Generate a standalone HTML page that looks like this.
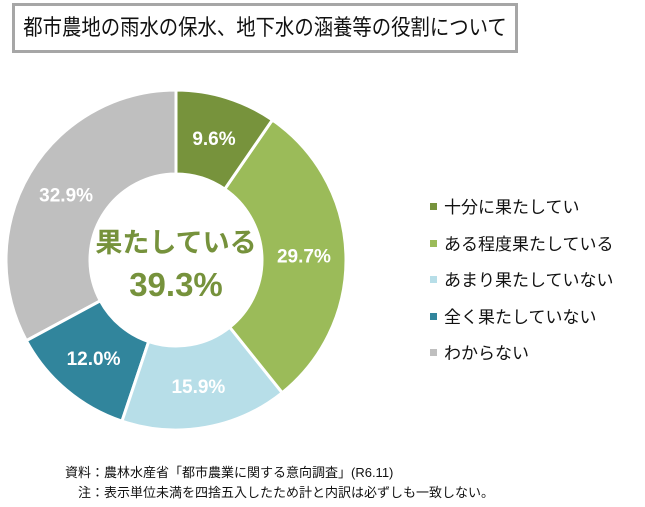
<!DOCTYPE html>
<html><head><meta charset="utf-8"><style>
body{margin:0;width:645px;height:507px;background:#fff;overflow:hidden;position:relative;font-family:"Liberation Sans","Noto Sans CJK JP",sans-serif;}
#title{position:absolute;left:12px;top:3px;width:500px;height:44px;border:3px solid #a6a6a6;line-height:44px;font-size:22px;color:#111;white-space:nowrap;}
#title span{position:absolute;left:50%;top:0;transform:translateX(-50%) scaleX(0.88);}
.lg{position:absolute;left:430px;font-size:17px;color:#111;line-height:20px;}
.lg span{display:inline-block;width:7px;height:7px;margin-right:7px;vertical-align:middle;position:relative;top:-2px;}
.note{position:absolute;font-size:13px;color:#111;}
</style></head><body>
<div id="title"><span>都市農地の雨水の保水、地下水の涵養等の役割について</span></div>
<svg id="chart" width="645" height="507" style="position:absolute;left:0;top:0">
<text x="176" y="252" text-anchor="middle" font-size="27" font-weight="bold" fill="#76923c" font-family="Liberation Sans,Noto Sans CJK JP,sans-serif">果たしている</text>
<text x="176" y="296" text-anchor="middle" font-size="33" font-weight="bold" fill="#76923c" font-family="Liberation Sans,sans-serif">39.3%</text>
</svg>
<div class="lg" style="top:198px"><span style="background:#77933c"></span>十分に果たしてい</div>
<div class="lg" style="top:235px"><span style="background:#9bbb59"></span>ある程度果たしている</div>
<div class="lg" style="top:271px"><span style="background:#b7dee8"></span>あまり果たしていない</div>
<div class="lg" style="top:308px"><span style="background:#31859c"></span>全く果たしていない</div>
<div class="lg" style="top:344px"><span style="background:#bfbfbf"></span>わからない</div>
<div class="note" style="left:65px;top:462px">資料：農林水産省「都市農業に関する意向調査」(R6.11)</div>
<div class="note" style="left:78px;top:482px">注：表示単位未満を四捨五入したため計と内訳は必ずしも一致しない。</div>
<script>
const categories=["十分に果たしてい","ある程度果たしている","あまり果たしていない","全く果たしていない","わからない"];
const values=[9.6,29.7,15.9,12.0,32.9];
const labels=["9.6%","29.7%","15.9%","12.0%","32.9%"];
const colors=["#77933c","#9bbb59","#b7dee8","#31859c","#bfbfbf"];
const svg=document.getElementById('chart');
const NS="http://www.w3.org/2000/svg";
const cx=176,cy=260,R=170,r=86,LR=128;
const total=values.reduce((a,b)=>a+b,0);
function pt(a,rad){return [cx+rad*Math.sin(a),cy-rad*Math.cos(a)];}
let acc=0;
values.forEach((v,i)=>{
  const a0=acc/total*2*Math.PI;acc+=v;const a1=acc/total*2*Math.PI;
  const big=(a1-a0)>Math.PI?1:0;
  const [x0,y0]=pt(a0,R),[x1,y1]=pt(a1,R),[x2,y2]=pt(a1,r),[x3,y3]=pt(a0,r);
  const p=document.createElementNS(NS,'path');
  p.setAttribute('d',`M${x0},${y0}A${R},${R} 0 ${big} 1 ${x1},${y1}L${x2},${y2}A${r},${r} 0 ${big} 0 ${x3},${y3}Z`);
  p.setAttribute('fill',colors[i]);p.setAttribute('stroke','#fff');p.setAttribute('stroke-width','3');
  
  
  svg.insertBefore(p,svg.firstChild);
  const am=(a0+a1)/2;const [lx,ly]=pt(am,LR);
  const t=document.createElementNS(NS,'text');
  t.setAttribute('x',lx);t.setAttribute('y',ly+7);t.setAttribute('text-anchor','middle');
  t.setAttribute('font-size','19');t.setAttribute('font-weight','bold');t.setAttribute('fill','#fff');
  t.setAttribute('font-family','Liberation Sans,sans-serif');
  t.textContent=labels[i];
  
  
  svg.appendChild(t);
});
</script>
</body></html>
